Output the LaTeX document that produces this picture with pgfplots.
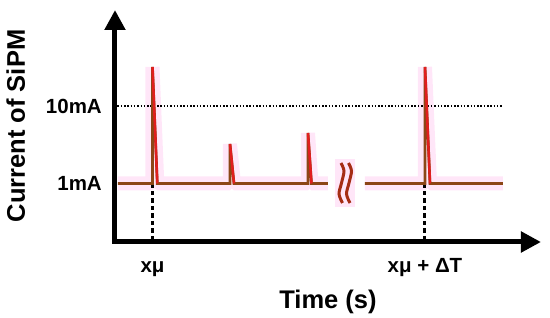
\documentclass[border=0pt]{standalone}
\usepackage{fontspec}
\setmainfont{Liberation Sans}
\usepackage{pgfplots}
\pgfplotsset{compat=1.18}
\usetikzlibrary{arrows.meta}

\definecolor{pulsebrown}{RGB}{140,70,22}
\definecolor{pulsered}{RGB}{225,30,30}
\definecolor{halo}{RGB}{255,230,248}
\definecolor{breakred}{RGB}{165,45,20}

\begin{document}
\begin{tikzpicture}
\begin{axis}[
    name=ax,
    scale only axis,
    width=426pt, height=232pt,
    xmin=0, xmax=426, ymin=0, ymax=232,
    axis lines=left,
    axis line style={line width=5pt, line cap=rect, -{Triangle[length=20pt,width=20pt]}},
    clip=false,
    major tick length=0pt,
    xtick={37.5,310},
    xticklabels={xμ, xμ + ΔT},
    ytick={58.5,136},
    yticklabels={1mA, 10mA},
    tick label style={font=\bfseries\fontsize{20.5}{24}\selectfont, inner sep=0pt},
    xticklabel style={anchor=base, yshift=-31pt},
    yticklabel style={anchor=east, xshift=-13pt},
    xlabel={Time (s)},
    ylabel={Current of SiPM},
    label style={font=\bfseries\fontsize{25.5}{30}\selectfont, inner sep=0pt},
    xlabel style={at={(axis description cs:0.5,-0.2888)}, anchor=base},
    ylabel style={at={(axis description cs:-0.2113,0.5)}, anchor=base},
    unbounded coords=jump,
]
% glow behind the trace
\addplot[halo, line width=14pt, line join=bevel] coordinates {
    (3,58.5) (37.5,58.5) (37.5,175) (42.3,58.5) (115,58.5) (115,98) (119,58.5)
    (193,58.5) (193,109) (196.5,58.5) (213,58.5) (213,nan)
    (250,58.5) (310,58.5) (310,175) (315,58.5) (388,58.5)
};
\addplot[halo, line width=20pt] coordinates {(230.5,83) (230.5,35)};

% 10 mA level
\addplot[black, line width=1.5pt, dash pattern=on 1.5pt off 1.8pt] coordinates {(2.5,136) (388,136)};

% markers down to the time axis
\addplot[black, line width=3pt, dash pattern=on 4.5pt off 3pt] coordinates {(37.5,58.5) (37.5,2.5)};
\addplot[black, line width=3pt, dash pattern=on 4.5pt off 3pt] coordinates {(310,58.5) (310,2.5)};

% SiPM current
\addplot[pulsebrown, line width=2.7pt] coordinates {
    (3,58.5) (37.5,58.5) (37.5,175) (42.3,58.5) (115,58.5) (115,98) (119,58.5)
    (193,58.5) (193,109) (196.5,58.5) (213,58.5) (213,nan)
    (250,58.5) (310,58.5) (310,175) (315,58.5) (388,58.5)
};
\addplot[pulsered, line width=2.5pt] coordinates {
    (37.5,175) (42.3,58.5) (42.3,nan)
    (115,98) (119,58.5) (119,nan)
    (193,109) (196.5,58.5) (196.5,nan)
    (310,175) (315,58.5)
};

% axis break
\addplot[breakred, line width=3pt, smooth] coordinates {(226,79) (229,71) (226.5,59) (224,48) (227.5,39)};
\addplot[breakred, line width=3pt, smooth] coordinates {(233.5,79) (236.5,71) (234,59) (231.5,48) (235,39)};
\end{axis}
\pgfresetboundingbox
\path[use as bounding box] ([shift={(-115pt,-76pt)}]ax.south west) rectangle ([shift={(435pt,242pt)}]ax.south west);
\end{tikzpicture}
\end{document}
